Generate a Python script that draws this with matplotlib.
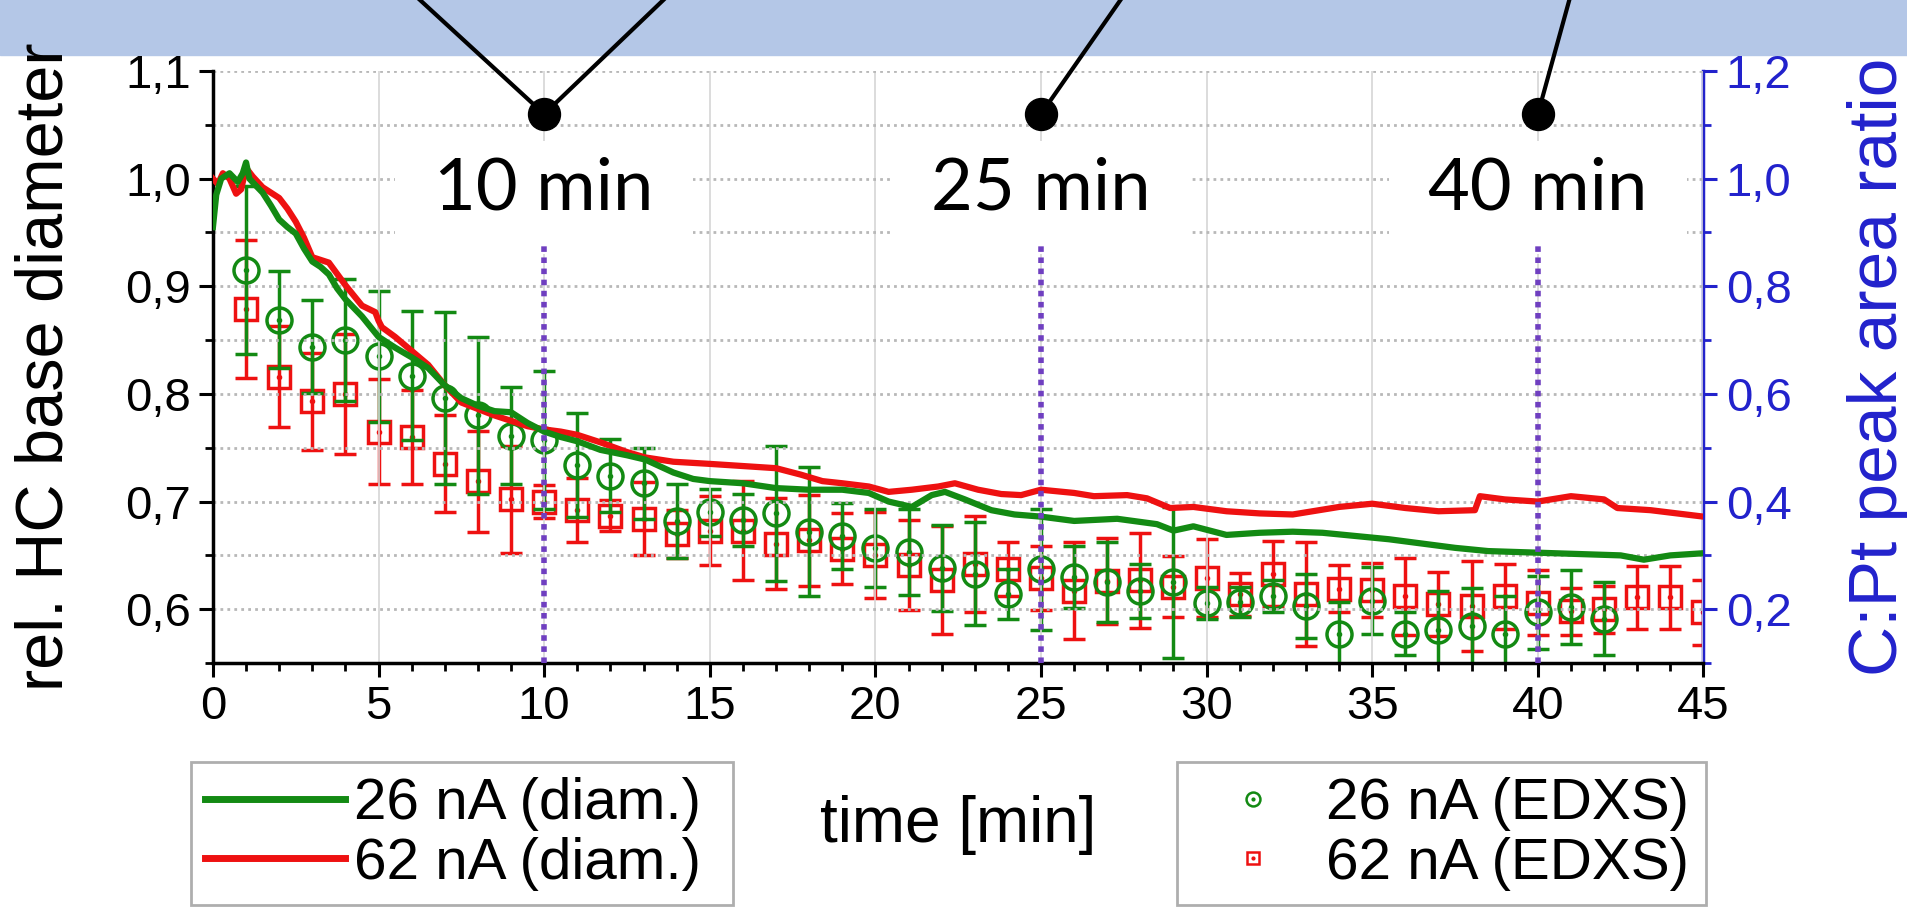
import matplotlib
matplotlib.use("Agg")
import matplotlib.pyplot as plt
from matplotlib.patches import Rectangle
from matplotlib.lines import Line2D
from matplotlib.ticker import MultipleLocator, FuncFormatter

plt.rcParams['font.family'] = ['Liberation Sans', 'DejaVu Sans']

# rel. HC base diameter (left axis)
t_green = [0.0, 0.1, 0.25, 0.5, 0.75, 0.9, 1.0, 1.1, 1.25, 1.5, 1.75, 2.0, 2.25, 2.5, 2.75, 3.0,
           3.25, 3.5, 3.75, 4.0, 4.5, 5.0, 5.5, 6.0, 6.5, 7.0, 7.5, 8.0, 8.5, 9.0, 9.5, 10.0,
           10.5, 11.0, 11.7, 12.5, 13.05, 13.9, 14.5, 15, 16, 17, 18, 19, 19.8, 20.4, 21.1,
           21.7, 22.1, 22.7, 23.5, 24.2, 25, 26, 27.3, 28.5, 29, 29.6, 30.6, 31.6, 32.6, 33.5,
           34.5, 35.5, 36.5, 37.5, 38.5, 39.5, 40.5, 41.5, 42.5, 43.2, 44, 45]
d_green = [0.955, 0.985, 1.000, 1.005, 0.997, 1.005, 1.015, 1.000, 0.995, 0.987, 0.975, 0.962,
           0.955, 0.949, 0.935, 0.923, 0.918, 0.911, 0.898, 0.888, 0.872, 0.853, 0.843, 0.834,
           0.824, 0.808, 0.796, 0.789, 0.784, 0.783, 0.773, 0.765, 0.760, 0.756, 0.748, 0.743,
           0.739, 0.727, 0.721, 0.719, 0.717, 0.7125, 0.711, 0.711, 0.708, 0.700, 0.695, 0.706,
           0.709, 0.702, 0.692, 0.688, 0.686, 0.682, 0.684, 0.679, 0.673, 0.677, 0.669, 0.671,
           0.672, 0.671, 0.668, 0.665, 0.661, 0.657, 0.654, 0.653, 0.652, 0.651, 0.650, 0.646,
           0.650, 0.652]

t_red = [0.0, 0.15, 0.3, 0.5, 0.7, 0.85, 1.0, 1.2, 1.5, 2.0, 2.25, 2.5, 2.75, 3.0, 3.5, 4.0,
         4.5, 4.9, 5.0, 5.1, 5.5, 6.0, 6.5, 7.0, 7.5, 8.0, 8.5, 9.0, 9.5, 10.0, 10.5, 11.0,
         11.7, 12.5, 13.05, 13.9, 15, 16, 17, 17.75, 18.4, 19, 19.8, 20.4, 21.1, 21.9, 22.4,
         23.1, 23.8, 24.4, 25, 26, 26.6, 27.6, 28.2, 28.9, 29.6, 30.6, 31.6, 32.6, 33.4, 34,
         35, 36, 37, 38.1, 38.25, 39, 40, 41, 42, 42.4, 43.4, 44.2, 45]
d_red = [1.000, 0.995, 1.005, 1.000, 0.986, 0.990, 1.010, 1.002, 0.992, 0.982, 0.972, 0.960,
         0.945, 0.927, 0.922, 0.901, 0.882, 0.876, 0.868, 0.862, 0.853, 0.840, 0.827, 0.808,
         0.792, 0.786, 0.780, 0.775, 0.770, 0.767, 0.765, 0.762, 0.755, 0.746, 0.741, 0.737,
         0.735, 0.733, 0.731, 0.725, 0.719, 0.717, 0.714, 0.709, 0.711, 0.714, 0.717, 0.711,
         0.707, 0.706, 0.711, 0.708, 0.705, 0.706, 0.703, 0.694, 0.695, 0.691, 0.689, 0.688,
         0.692, 0.695, 0.698, 0.694, 0.691, 0.692, 0.705, 0.702, 0.700, 0.705, 0.702, 0.694,
         0.692, 0.689, 0.686]

# C:Pt peak area ratio from EDXS (right axis)
t_edx_green = list(range(1, 43))
r_green = [0.830, 0.738, 0.688, 0.700, 0.670, 0.634, 0.592, 0.560, 0.522, 0.514, 0.468, 0.448,
           0.434, 0.364, 0.380, 0.366, 0.378, 0.344, 0.336, 0.314, 0.306, 0.276, 0.266, 0.228,
           0.274, 0.260, 0.250, 0.234, 0.250, 0.212, 0.214, 0.224, 0.206, 0.154, 0.216, 0.154,
           0.162, 0.168, 0.154, 0.194, 0.204, 0.182]
e_green = [0.156, 0.090, 0.086, 0.114, 0.122, 0.120, 0.160, 0.146, 0.090, 0.128, 0.096, 0.068,
           0.066, 0.068, 0.044, 0.048, 0.126, 0.120, 0.062, 0.072, 0.080, 0.080, 0.096, 0.046,
           0.112, 0.058, 0.074, 0.050, 0.140, 0.030, 0.028, 0.030, 0.060, 0.060, 0.062, 0.040,
           0.072, 0.072, 0.070, 0.068, 0.068, 0.068]

t_edx_red = list(range(1, 46))
r_red = [0.758, 0.632, 0.586, 0.600, 0.530, 0.520, 0.470, 0.438, 0.404, 0.400, 0.384, 0.374,
         0.368, 0.340, 0.346, 0.346, 0.322, 0.328, 0.312, 0.300, 0.282, 0.254, 0.284, 0.274,
         0.258, 0.234, 0.252, 0.254, 0.242, 0.258, 0.228, 0.266, 0.228, 0.238, 0.236, 0.224,
         0.210, 0.206, 0.224, 0.212, 0.196, 0.200, 0.222, 0.222, 0.194]
e_red = [0.128, 0.094, 0.090, 0.112, 0.098, 0.088, 0.090, 0.094, 0.100, 0.030, 0.060, 0.028,
         0.068, 0.044, 0.064, 0.092, 0.084, 0.084, 0.066, 0.080, 0.084, 0.100, 0.090, 0.050,
         0.060, 0.090, 0.080, 0.088, 0.056, 0.072, 0.040, 0.060, 0.096, 0.044, 0.050, 0.072,
         0.060, 0.084, 0.060, 0.060, 0.044, 0.044, 0.058, 0.058, 0.060]

# marked times
mark_t = [10, 25, 40]
mark_labels = ['10 min', '25 min', '40 min']
mark_dot_y = 1.06
mark_text_y = 0.99
mark_line_bottom = 0.94
pointer_top_y = 1.166
pointer_top_x = [[6.25, 13.6], [27.4], [40.95]]

green = '#138a13'
red = '#ee1111'
blue = '#2222cc'
purple = '#6f3fc0'

fig = plt.figure(figsize=(19.08, 9.09), dpi=100)
fig.patches.append(Rectangle((0, 0.9395), 1, 0.07, transform=fig.transFigure,
                             color='#b4c7e7', zorder=-1))

ax = fig.add_axes([0.1116, 0.2706, 0.7812, 0.6513])
ax2 = ax.twinx()
ax.set_zorder(ax2.get_zorder() + 1)
ax.patch.set_visible(False)

# EDXS points on right axis
ax2.errorbar(t_edx_red, r_red, yerr=e_red, fmt='s', ms=16, mfc='none', mec=red, mew=2.5,
             ecolor=red, elinewidth=2.5, capsize=8, capthick=2.5, zorder=2)
ax2.plot(t_edx_red, r_red, ls='none', marker='o', ms=3, color=red, zorder=2)
ax2.errorbar(t_edx_green, r_green, yerr=e_green, fmt='o', ms=18, mfc='none', mec=green,
             mew=2.5, ecolor=green, elinewidth=2.5, capsize=8, capthick=2.5, zorder=3)
ax2.plot(t_edx_green, r_green, ls='none', marker='o', ms=3, color=green, zorder=3)

# diameter curves on left axis
ax.plot(t_red, d_red, color=red, lw=4.5, zorder=3)
ax.plot(t_green, d_green, color=green, lw=4.5, zorder=3)

for i, tm in enumerate(mark_t):
    ax.add_patch(Rectangle((tm - 4.5, 0.93), 9.0, 0.105, fc='white', ec='none', zorder=2.5))
    ax.plot([tm, tm], [0.55, mark_line_bottom], color=purple, ls=(0, (1, 1)), lw=4, zorder=4)
    ax.text(tm, mark_text_y, mark_labels[i], ha='center', va='center', fontsize=52,
            family=['Lato', 'DejaVu Sans'], zorder=3)
    for xt in pointer_top_x[i]:
        ax.plot([xt, tm], [pointer_top_y, mark_dot_y], color='black', lw=3, clip_on=False,
                zorder=5)
    ax.plot(tm, mark_dot_y, 'o', color='black', ms=23, clip_on=False, zorder=6)

fmt = FuncFormatter(lambda v, p: f'{v:.1f}'.replace('.', ','))

ax.set_xlim(0, 45)
ax.set_ylim(0.55, 1.1)
ax2.set_ylim(0.1, 1.2)
ax.xaxis.set_major_locator(MultipleLocator(5))
ax.xaxis.set_minor_locator(MultipleLocator(1))
ax.yaxis.set_major_locator(MultipleLocator(0.1))
ax.yaxis.set_minor_locator(MultipleLocator(0.05))
ax.yaxis.set_major_formatter(fmt)
ax2.yaxis.set_major_locator(MultipleLocator(0.2))
ax2.yaxis.set_minor_locator(MultipleLocator(0.1))
ax2.yaxis.set_major_formatter(fmt)

ax.grid(axis='x', which='major', color='#d6d6d6', lw=1.2, ls='-')
ax.grid(axis='y', which='both', color='#b8b8b8', lw=2, ls=(0, (1, 1.5)))

for s in ['top', 'right']:
    ax.spines[s].set_visible(False)
for s in ['top', 'left', 'bottom']:
    ax2.spines[s].set_visible(False)
ax.spines['left'].set_linewidth(2.5)
ax.spines['bottom'].set_linewidth(2.5)
ax2.spines['right'].set_linewidth(2.5)
ax2.spines['right'].set_color(blue)

ax.tick_params(which='major', direction='out', length=10, width=2.2, labelsize=34, pad=6)
ax.tick_params(which='minor', direction='out', length=6, width=2)
ax2.tick_params(which='major', direction='out', length=10, width=2.2, labelsize=34, pad=6,
                color=blue, labelcolor=blue)
ax2.tick_params(which='minor', direction='out', length=6, width=2, color=blue)

ax.set_xlabel('time [min]', fontsize=46)
ax.xaxis.label.set_va('center')
ax.xaxis.set_label_coords(0.5, -0.274)
ax.set_ylabel('rel. HC base diameter', fontsize=48)
ax.yaxis.label.set_va('center')
ax.yaxis.set_label_coords(-0.112, 0.5)
ax2.set_ylabel('C:Pt peak area ratio', fontsize=50, color=blue)
ax2.yaxis.label.set_va('center')
ax2.yaxis.set_label_coords(1.118, 0.5)

h_lines = [Line2D([], [], color=green, lw=5), Line2D([], [], color=red, lw=5)]
leg1 = fig.legend(h_lines, ['26 nA (diam.)', '62 nA (diam.)'], loc='lower left',
                  bbox_to_anchor=(0.1, 0.004, 0.284, 0.19), mode='expand', fontsize=42,
                  handlelength=2.4, handletextpad=0.15, labelspacing=0.1, borderpad=0.25,
                  fancybox=False, edgecolor='#9a9a9a', borderaxespad=0)
leg1.get_frame().set_linewidth(2)

h_pts = [(Line2D([], [], ls='none', marker='o', ms=10, mfc='none', mec=green, mew=1.8),
          Line2D([], [], ls='none', marker='o', ms=2, color=green)),
         (Line2D([], [], ls='none', marker='s', ms=9, mfc='none', mec=red, mew=1.8),
          Line2D([], [], ls='none', marker='o', ms=2, color=red))]
leg2 = fig.legend(h_pts, ['26 nA (EDXS)', '62 nA (EDXS)'], loc='lower left',
                  bbox_to_anchor=(0.617, 0.004, 0.277, 0.19), mode='expand', fontsize=42,
                  handlelength=2.1, handletextpad=0.2, labelspacing=0.1, borderpad=0.25,
                  fancybox=False, edgecolor='#9a9a9a', borderaxespad=0)
leg2.get_frame().set_linewidth(2)

fig.savefig('out.png', dpi=100)
